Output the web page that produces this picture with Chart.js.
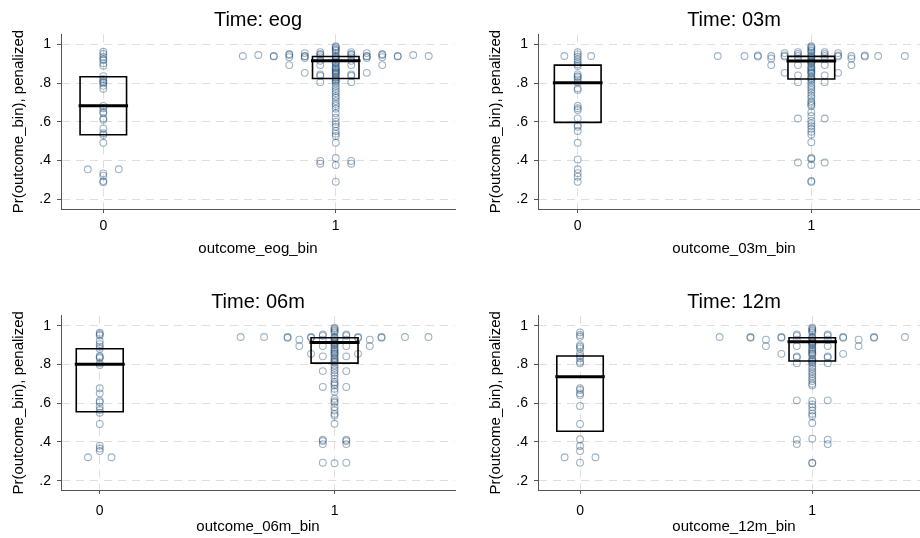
<!DOCTYPE html>
<html>
<head>
<meta charset="utf-8">
<title>Pr(outcome_bin) by outcome and time</title>
<script src="https://cdn.jsdelivr.net/npm/chart.js@4.4.1/dist/chart.umd.min.js"></script>
<style>
  html, body { margin: 0; padding: 0; background: #fff; overflow: hidden; }
  body { position: relative; width: 920px; height: 538px; }
  .panel { position: absolute; }
  .panel canvas { display: block; }
</style>
</head>
<body>
<div class="panel" style="left:0;top:0"><canvas id="pEog" width="460" height="268"></canvas></div>
<div class="panel" style="left:460px;top:0"><canvas id="p03m" width="475" height="268"></canvas></div>
<div class="panel" style="left:0;top:268px"><canvas id="p06m" width="460" height="270"></canvas></div>
<div class="panel" style="left:460px;top:268px"><canvas id="p12m" width="475" height="270"></canvas></div>
<script>
// outcome groups on the x axis and the shared tick labels
const groups = [0, 1];
const xTicks = [0, 1];
const xTickLabels = ['0', '1'];
const yTicks = [0.2, 0.4, 0.6, 0.8, 1];
const yTickLabels = ['.2', '.4', '.6', '.8', '1'];

// predicted probabilities, one list per outcome group (repeated values are ties)
const eogNo = [0.962, 0.95, 0.936, 0.925, 0.919, 0.902, 0.89, 0.836, 0.822, 0.811, 0.805, 0.799,
  0.786, 0.771, 0.682, 0.67, 0.652, 0.644, 0.618, 0.611, 0.566, 0.541, 0.532, 0.492,
  0.355, 0.355, 0.334, 0.322, 0.294, 0.288];
const eogYes = [0.99, 0.985, 0.978, 0.972, 0.966, 0.96, 0.96, 0.955, 0.955, 0.955,
  0.95, 0.95, 0.95, 0.95, 0.945, 0.945, 0.945, 0.945, 0.945, 0.945,
  0.94, 0.94, 0.94, 0.94, 0.94, 0.94, 0.94, 0.938, 0.938, 0.938, 0.938, 0.938,
  0.934, 0.934, 0.934, 0.934, 0.93, 0.93, 0.93,
  0.925, 0.92, 0.915, 0.915, 0.91, 0.905, 0.9, 0.893, 0.893, 0.893, 0.893,
  0.886, 0.88, 0.874, 0.868, 0.862, 0.858, 0.853, 0.853, 0.853,
  0.848, 0.845, 0.845, 0.842, 0.838, 0.838, 0.832, 0.826, 0.82, 0.814, 0.81, 0.805, 0.805,
  0.799, 0.785, 0.771, 0.759, 0.747, 0.733, 0.724, 0.707, 0.693, 0.682, 0.668, 0.644,
  0.621, 0.601, 0.587, 0.575, 0.553, 0.539, 0.527, 0.492,
  0.413, 0.398, 0.398, 0.384, 0.384, 0.377, 0.291];

const m03No = [0.96, 0.948, 0.94, 0.94, 0.936, 0.922, 0.909, 0.897, 0.888, 0.845, 0.836, 0.83,
  0.819, 0.805, 0.773, 0.765, 0.682, 0.67, 0.661, 0.618, 0.583, 0.575, 0.553, 0.492,
  0.406, 0.355, 0.335, 0.317, 0.291];
const m03Yes = [0.99, 0.985, 0.978, 0.97, 0.965, 0.96, 0.96, 0.955, 0.955, 0.955, 0.95, 0.95,
  0.943, 0.943, 0.943, 0.943, 0.943, 0.94, 0.94, 0.94, 0.94, 0.94, 0.94, 0.94, 0.94,
  0.937, 0.937, 0.937, 0.937, 0.937, 0.93, 0.927, 0.927, 0.927, 0.927,
  0.92, 0.915, 0.91, 0.905, 0.9, 0.893, 0.893, 0.893, 0.893,
  0.886, 0.88, 0.873, 0.866, 0.86, 0.853, 0.853, 0.853,
  0.848, 0.84, 0.84, 0.835, 0.828, 0.822, 0.815, 0.805, 0.805, 0.802,
  0.788, 0.776, 0.764, 0.75, 0.736, 0.724, 0.707, 0.699, 0.69, 0.682, 0.65, 0.63,
  0.617, 0.617, 0.606, 0.592, 0.578, 0.564, 0.549, 0.535, 0.495,
  0.413, 0.408, 0.39, 0.39, 0.377, 0.295, 0.29];

const m06No = [0.964, 0.956, 0.95, 0.921, 0.905, 0.892, 0.881, 0.844, 0.838, 0.833, 0.806, 0.797,
  0.677, 0.651, 0.613, 0.605, 0.582, 0.565, 0.551, 0.493, 0.381, 0.366, 0.353, 0.321, 0.321];
const m06Yes = [0.99, 0.985, 0.978, 0.972, 0.965, 0.955, 0.955, 0.948, 0.948,
  0.942, 0.942, 0.942, 0.942, 0.942, 0.942, 0.942, 0.942, 0.942,
  0.938, 0.938, 0.938, 0.938, 0.938, 0.93, 0.928, 0.928, 0.928, 0.928,
  0.922, 0.915, 0.91, 0.905, 0.9, 0.895, 0.895, 0.895, 0.895,
  0.888, 0.88, 0.873, 0.866, 0.86, 0.855, 0.855, 0.855,
  0.848, 0.842, 0.842, 0.836, 0.83, 0.822, 0.815, 0.81, 0.796, 0.783, 0.77, 0.766, 0.766,
  0.757, 0.744, 0.727, 0.71, 0.701, 0.692, 0.684, 0.684, 0.675, 0.66,
  0.623, 0.61, 0.603, 0.58, 0.563, 0.546, 0.537, 0.494,
  0.412, 0.412, 0.405, 0.405, 0.389, 0.389, 0.293, 0.293, 0.29];

const m12No = [0.966, 0.952, 0.943, 0.9, 0.892, 0.883, 0.857, 0.844, 0.832, 0.814, 0.806,
  0.677, 0.668, 0.651, 0.642, 0.586, 0.493, 0.414, 0.379, 0.353, 0.321, 0.321, 0.293];
const m12Yes = [0.99, 0.985, 0.978, 0.972, 0.965, 0.955, 0.955, 0.948, 0.948,
  0.942, 0.942, 0.942, 0.942, 0.942, 0.942, 0.942, 0.938, 0.938, 0.938, 0.938, 0.938,
  0.93, 0.928, 0.928, 0.928, 0.928, 0.92, 0.915, 0.91, 0.905, 0.9, 0.895, 0.895, 0.895, 0.895,
  0.888, 0.88, 0.873, 0.866, 0.86, 0.855, 0.855, 0.855,
  0.848, 0.842, 0.842, 0.836, 0.836, 0.83, 0.824, 0.818, 0.812, 0.807, 0.807, 0.804,
  0.79, 0.778, 0.764, 0.752, 0.739, 0.727, 0.715, 0.701, 0.692,
  0.615, 0.615, 0.612, 0.594, 0.58, 0.563, 0.546, 0.534, 0.498,
  0.417, 0.412, 0.412, 0.389, 0.389, 0.293, 0.29];

// box quartiles per group: [outcome 0, outcome 1]
const eogQ1 = [0.533, 0.824], eogMed = [0.683, 0.915], eogQ3 = [0.833, 0.937];
const m03Q1 = [0.597, 0.821], m03Med = [0.802, 0.914], m03Q3 = [0.893, 0.938];
const m06Q1 = [0.556, 0.807], m06Med = [0.801, 0.914], m06Q3 = [0.881, 0.938];
const m12Q1 = [0.455, 0.818], m12Med = [0.737, 0.917], m12Q3 = [0.844, 0.938];

const FONT = '"Liberation Sans", Arial, Helvetica, sans-serif';
const BOX_HALF = 0.1;
const POINT_EDGE = 'rgba(26, 71, 111, 0.42)';
const GRID = '#dedede';
const AXIS = '#555555';

// tied values sit side by side, centred on the group
function stackTies(values, centre, step) {
  const counts = new Map();
  values.forEach(v => counts.set(v, (counts.get(v) || 0) + 1));
  const pts = [];
  counts.forEach((n, v) => {
    for (let i = 0; i < n; i++) pts.push({ x: centre + (i - (n - 1) / 2) * step, y: v });
  });
  return pts;
}

function lineSet(data, width) {
  return {
    data: data, showLine: true, order: 0,
    borderColor: '#000', borderWidth: width,
    borderJoinStyle: 'miter', borderCapStyle: 'square',
    pointRadius: 0, pointHoverRadius: 0
  };
}

function drawPanel(id, p) {
  const points = [];
  p.series.forEach((vals, i) => points.push(...stackTies(vals, groups[i], p.step)));

  const datasets = [];
  groups.forEach((g, i) => {
    const l = g - BOX_HALF, r = g + BOX_HALF;
    datasets.push(lineSet([{ x: l, y: p.q1[i] }, { x: r, y: p.q1[i] }, { x: r, y: p.q3[i] },
      { x: l, y: p.q3[i] }, { x: l, y: p.q1[i] }], 1.6));
    datasets.push(lineSet([{ x: l, y: p.med[i] }, { x: r, y: p.med[i] }], 3));
  });
  datasets.push({
    data: points, order: 1,
    pointRadius: 3.4, pointHoverRadius: 3.4, pointBorderWidth: 1.1,
    pointBackgroundColor: 'rgba(0,0,0,0)', pointBorderColor: POINT_EDGE
  });

  const tickFont = { family: FONT, size: 14 };
  const titleFont = { family: FONT, size: 15 };

  new Chart(document.getElementById(id), {
    type: 'scatter',
    data: { datasets: datasets },
    options: {
      responsive: false,
      animation: false,
      events: [],
      layout: { padding: { left: 0, right: 5, top: 0, bottom: 0 } },
      plugins: {
        legend: { display: false },
        tooltip: { enabled: false },
        title: {
          display: true, text: p.title, fullSize: false, color: '#000',
          font: { family: FONT, size: 20, weight: 'normal' },
          padding: p.titlePad
        }
      },
      scales: {
        x: {
          type: 'linear', min: p.xMin, max: p.xMax,
          afterBuildTicks: s => { s.ticks = xTicks.map(v => ({ value: v })); },
          afterFit: s => { s.height = p.xAxisH; },
          ticks: {
            callback: v => xTickLabels[xTicks.indexOf(v)],
            font: tickFont, color: '#000', padding: p.xTickPad, maxRotation: 0
          },
          grid: { color: GRID, tickColor: AXIS, tickLength: 4 },
          border: { color: AXIS, width: 1, dash: [8, 6] },
          title: {
            display: true, text: p.xTitle, color: '#000', font: titleFont,
            padding: { top: 0, bottom: p.xTitlePad }
          }
        },
        y: {
          type: 'linear', min: p.yMin, max: p.yMax,
          afterBuildTicks: s => { s.ticks = yTicks.map(v => ({ value: v })); },
          afterFit: s => { s.width = p.yAxisW; },
          ticks: {
            callback: v => yTickLabels[yTicks.indexOf(v)],
            font: tickFont, color: '#000', padding: 6
          },
          grid: { color: GRID, tickColor: AXIS, tickLength: 4 },
          border: { color: AXIS, width: 1, dash: [8, 6] },
          title: {
            display: true, text: 'Pr(outcome_bin), penalized', color: '#000', font: titleFont,
            padding: { top: p.yTitlePad, bottom: 0 }
          }
        }
      }
    }
  });
}

const topRow = { titlePad: { top: 8.5, bottom: 1.8 }, xAxisH: 59, xTickPad: 4.3, xTitlePad: 10.3, yMin: 0.15, yMax: 1.052 };
const bottomRow = { titlePad: { top: 22.1, bottom: 1.6 }, xAxisH: 48, xTickPad: 8.3, xTitlePad: 2, yMin: 0.152, yMax: 1.052 };

drawPanel('pEog', Object.assign({}, topRow, {
  title: 'Time: eog', xTitle: 'outcome_eog_bin', series: [eogNo, eogYes],
  q1: eogQ1, med: eogMed, q3: eogQ3, step: 0.1333,
  xMin: -0.182, xMax: 1.513, yAxisW: 61, yTitlePad: 10.3
}));
drawPanel('p03m', Object.assign({}, topRow, {
  title: 'Time: 03m', xTitle: 'outcome_03m_bin', series: [m03No, m03Yes],
  q1: m03Q1, med: m03Med, q3: m03Q3, step: 0.1144,
  xMin: -0.17, xMax: 1.508, yAxisW: 78, yTitlePad: 27.3
}));
drawPanel('p06m', Object.assign({}, bottomRow, {
  title: 'Time: 06m', xTitle: 'outcome_06m_bin', series: [m06No, m06Yes],
  q1: m06Q1, med: m06Med, q3: m06Q3, step: 0.1,
  xMin: -0.165, xMax: 1.513, yAxisW: 61, yTitlePad: 10.3
}));
drawPanel('p12m', Object.assign({}, bottomRow, {
  title: 'Time: 12m', xTitle: 'outcome_12m_bin', series: [m12No, m12Yes],
  q1: m12Q1, med: m12Med, q3: m12Q3, step: 0.133,
  xMin: -0.181, xMax: 1.507, yAxisW: 78, yTitlePad: 27.3
}));
</script>
</body>
</html>
